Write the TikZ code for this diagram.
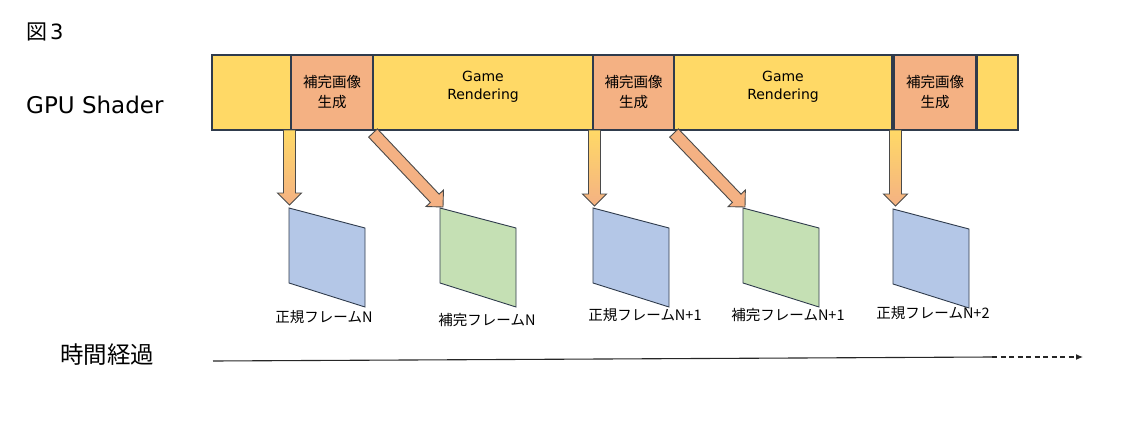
\documentclass[tikz,border=0pt]{standalone}
\usepackage{fontspec}
\setmainfont{DejaVu Sans}
\newfontfamily\jpfont{Noto Sans CJK JP}
\usetikzlibrary{arrows.meta,positioning,calc}
\definecolor{gsInk}{HTML}{2F3B4C}
\definecolor{gsEdge}{HTML}{4A4A4A}
\definecolor{gsGold}{HTML}{FFD966}
\definecolor{gsPeach}{HTML}{F4B183}
\definecolor{gsBlue}{HTML}{B4C7E7}
\definecolor{gsGreen}{HTML}{C5E0B4}
\tikzset{
  seg/.style     ={draw=gsInk,line width=1.1pt,outer sep=0pt,inner sep=0pt,
                   minimum height=75pt,anchor=north west},
  render/.style  ={seg,fill=gsGold},
  interp/.style  ={seg,fill=gsPeach,align=center,
                   font=\jpfont\fontsize{14.5}{20}\selectfont},
  rtxt/.style    ={inner sep=0pt,align=center,font=\fontsize{14}{18}\selectfont},
  framebox/.style={draw=gsInk,line width=0.9pt,line join=miter},
  flbl/.style    ={inner sep=0pt,font=\jpfont\fontsize{14.5}{17}\selectfont},
  lbl/.style     ={inner sep=0pt,anchor=west},
  blk/.style     ={draw=gsEdge,line width=0.9pt,line join=miter},
  blkgrad/.style ={blk,top color=gsGold,bottom color=gsPeach},
  blksolid/.style={blk,fill=gsPeach},
  timeline/.style={line width=1.1pt,black!85},
}
% block arrow: style, tail, tip
\newcommand\blkarrow[3]{%
  \coordinate (hb) at ($(#3)!12pt!(#2)$);
  \draw[#1] ($(#2)!6pt!90:(#3)$) -- ($(hb)!6pt!-90:(#2)$) -- ($(hb)!12pt!-90:(#2)$)
    -- (#3) -- ($(hb)!12pt!90:(#2)$) -- ($(hb)!6pt!90:(#2)$) -- ($(#2)!6pt!-90:(#3)$) -- cycle;}

\begin{document}
\begin{tikzpicture}[x=1pt,y=-1pt]
\useasboundingbox (0,0) rectangle (1125,444);
% titles
\node[lbl,font=\fontsize{21}{24}\selectfont] (fig) at (26,32) {{\jpfont 図}\hspace{3pt}3};
\node[lbl,font=\fontsize{23}{27}\selectfont] (gpu) at (26,105) {GPU Shader};
\node[lbl,font=\jpfont\fontsize{23.5}{27}\selectfont] (time) at (60,355) {時間経過};

% shader row
\node[render,minimum width=79pt] (b0) at (212,55) {};
\node[interp,minimum width=82pt,right=0pt of b0] (o1) {補完画像\\生成};
\node[render,minimum width=220pt,right=0pt of o1] (g1) {};
\node[interp,minimum width=81pt,right=0pt of g1] (o2) {補完画像\\生成};
\node[render,minimum width=218pt,right=0pt of o2] (g2) {};
\node[interp,minimum width=82pt,right=2pt of g2] (o3) {補完画像\\生成};
\node[render,minimum width=41pt,right=1pt of o3] (b4) {};
\foreach \g in {g1,g2}
  \node[rtxt] (t\g) at ([yshift=6pt]\g.center) {Game\\Rendering};

% frames
\foreach \i/\x/\y/\col in {1/289/208/gsBlue,2/440/208/gsGreen,3/593/208/gsBlue,
                            4/743/208/gsGreen,5/893/209/gsBlue}
{
  \coordinate (f\i) at (\x,\y);
  \draw[framebox,fill=\col] (f\i) -- ++(76,20) -- ++(0,79) -- ++(-76,-24) -- cycle;
}
\node[flbl] (l1) at (324,317) {正規フレームN};
\node[flbl] (l2) at (487,320) {補完フレームN};
\node[flbl] (l3) at (645,315) {正規フレームN+1};
\node[flbl] (l4) at (788,315) {補完フレームN+1};
\node[flbl] (l5) at (933,313) {正規フレームN+2};

% output arrows
\coordinate (s1) at ([xshift=-1.5pt]o1.south west);
\coordinate (s2) at ([yshift=-3pt]o1.south east);
\coordinate (s3) at ([xshift=1.5pt]o2.south west);
\coordinate (s4) at ([yshift=-3pt]o2.south east);
\coordinate (s5) at ([xshift=1.5pt]o3.south west);
\coordinate (e1) at ($(f1)+(0.5,-3)$);
\coordinate (e2) at ($(f2)+(3,-1)$);
\coordinate (e3) at ($(f3)+(1.5,-2)$);
\coordinate (e4) at ($(f4)+(2,-1)$);
\coordinate (e5) at ($(f5)+(2.5,-3)$);
\foreach \i/\sty in {1/blkgrad,2/blksolid,3/blkgrad,4/blksolid,5/blkgrad}
  \blkarrow{\sty}{s\i}{e\i};

% time axis
\coordinate (t0) at (213,361);
\coordinate (t1) at (992,357);
\coordinate (t2) at (1083,357);
\draw[timeline] (t0) -- (t1);
\draw[timeline,dash pattern=on 5pt off 3.5pt,-{Latex[length=7pt,width=6pt]}] (t1) -- (t2);
\end{tikzpicture}
\end{document}
